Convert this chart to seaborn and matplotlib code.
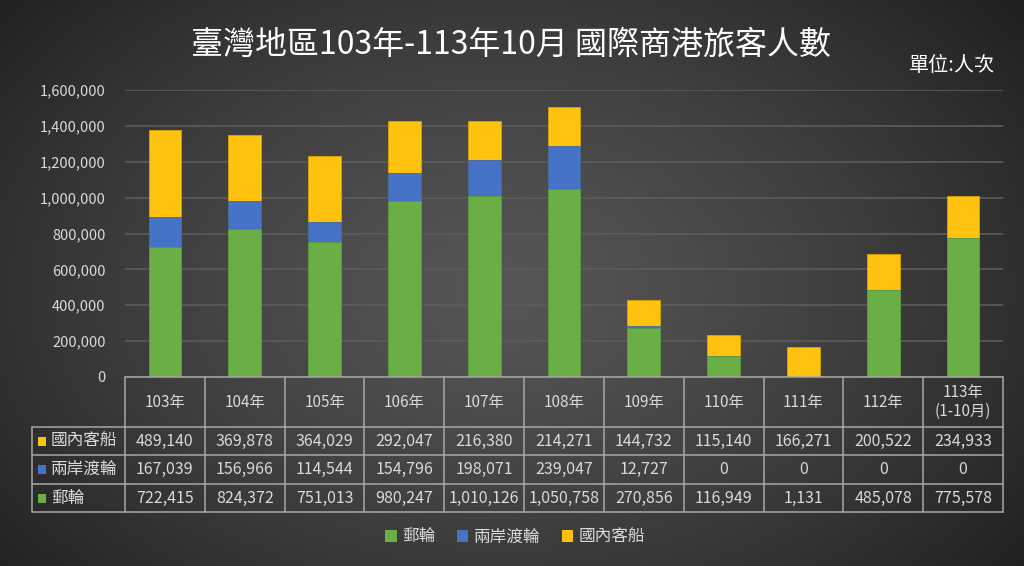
import numpy as np
import pandas as pd
import matplotlib
matplotlib.use("Agg")
import matplotlib.pyplot as plt
import matplotlib.transforms as mtransforms
from matplotlib.patches import Rectangle
import seaborn as sns

# ---------------- data ----------------
years = ["103年", "104年", "105年", "106年", "107年", "108年", "109年",
         "110年", "111年", "112年", "113年\n(1-10月)"]
domestic = [489140, 369878, 364029, 292047, 216380, 214271, 144732,
            115140, 166271, 200522, 234933]          # 國內客船
cross_strait = [167039, 156966, 114544, 154796, 198071, 239047, 12727,
                0, 0, 0, 0]                            # 兩岸渡輪
cruise = [722415, 824372, 751013, 980247, 1010126, 1050758, 270856,
          116949, 1131, 485078, 775578]                # 郵輪
series_names = ["郵輪", "兩岸渡輪", "國內客船"]
yticks = [0, 200000, 400000, 600000, 800000, 1000000, 1200000, 1400000, 1600000]
title = "臺灣地區103年-113年10月 國際商港旅客人數"
unit = "單位:人次"

C_GREEN = "#6AAE45"
C_BLUE = "#4673C6"
C_GOLD = "#FFC20E"
TXT = "#D9D9D9"
LINE = "#A8A8A8"

sns.set_theme(style="white")
plt.rcParams["font.family"] = ["Noto Sans CJK TC", "DejaVu Sans"]

W, H = 1024, 566
fig = plt.figure(figsize=(W / 100, H / 100), dpi=100)

# background radial gradient
bg = fig.add_axes([0, 0, 1, 1], zorder=-10)
yy, xx = np.mgrid[0:H, 0:W]
r = np.sqrt(((xx - 500) / 620.0) ** 2 + ((yy - 290) / 420.0) ** 2)
val = np.clip(0.335 - 0.19 * r ** 1.3, 0.13, 0.34)
img = np.dstack([val, val, val])
bg.imshow(img, aspect="auto", extent=[0, 1, 0, 1], origin="upper")
bg.axis("off")

def fx(px):
    return px / W

def fy(py):
    return 1 - py / H

ax = fig.add_axes([fx(125), fy(377), fx(1003) - fx(125), fy(90) - fy(377)])
ax.set_facecolor("none")

df = pd.DataFrame({
    "year": years,
    "cruise": cruise,
    "cross": cross_strait,
    "domestic": domestic,
})
df["lvl2"] = df["cruise"] + df["cross"]
df["lvl3"] = df["lvl2"] + df["domestic"]

bw = 0.41
sns.barplot(data=df, x="year", y="lvl3", color=C_GOLD, width=bw, ax=ax,
            saturation=1, edgecolor="#D9A300", linewidth=0.6, zorder=3)
sns.barplot(data=df, x="year", y="lvl2", color=C_BLUE, width=bw, ax=ax,
            saturation=1, edgecolor="#3A62A8", linewidth=0.6, zorder=3)
sns.barplot(data=df, x="year", y="cruise", color=C_GREEN, width=bw, ax=ax,
            saturation=1, edgecolor="#5C9A3A", linewidth=0.6, zorder=3)

ax.set_xlim(-0.5, len(years) - 0.5)
ax.set_ylim(0, 1600000)
ax.set_yticks(yticks)
ax.set_yticklabels([f"{v:,}" for v in yticks], color=TXT, fontsize=10.5)
ax.tick_params(axis="y", length=0, pad=14)
ax.set_xticks([])
ax.set_xlabel("")
ax.set_ylabel("")
for s in ax.spines.values():
    s.set_visible(False)
ax.yaxis.grid(True, color="#5C5C5C", linewidth=1.2, zorder=0)
ax.set_axisbelow(True)

# ---------------- title ----------------
fig.text(fx(511), fy(45), title, color="white", fontsize=23,
         ha="center", va="center", fontweight="medium")
fig.text(fx(995), fy(66), unit, color="white", fontsize=14.5,
         ha="right", va="center")

# ---------------- data table ----------------
tr = mtransforms.blended_transform_factory(ax.transData, fig.transFigure)
n = len(years)
x_left_px, x_tab_px, x_right_px = 32, 125, 1003
y_rows = [377, 427, 455, 484, 512]

def hline(py, x0px, x1px):
    fig.add_artist(plt.Line2D([fx(x0px), fx(x1px)], [fy(py), fy(py)],
                              color=LINE, lw=1.1, transform=fig.transFigure))

def vline(px, y0px, y1px):
    fig.add_artist(plt.Line2D([fx(px), fx(px)], [fy(y0px), fy(y1px)],
                              color=LINE, lw=1.1, transform=fig.transFigure))

hline(y_rows[0], x_tab_px, x_right_px)
for py in y_rows[1:]:
    hline(py, x_left_px, x_right_px)
vline(x_left_px, y_rows[1], y_rows[-1])
col_w = (x_right_px - x_tab_px) / n
for i in range(n + 1):
    vline(x_tab_px + i * col_w, y_rows[0], y_rows[-1])

for i, yr in enumerate(years):
    fig.text(i, fy((y_rows[0] + y_rows[1]) / 2), yr, transform=tr,
             ha="center", va="center", color=TXT, fontsize=11,
             linespacing=1.15)

rows = [("國內客船", domestic, C_GOLD), ("兩岸渡輪", cross_strait, C_BLUE),
        ("郵輪", cruise, C_GREEN)]
for k, (name, vals, col) in enumerate(rows):
    yc = fy((y_rows[k + 1] + y_rows[k + 2]) / 2)
    fig.add_artist(Rectangle((fx(38), yc - 4.5 / H), 8 / W, 9 / H,
                             facecolor=col, edgecolor="none",
                             transform=fig.transFigure))
    fig.text(fx(51), yc, name, ha="left", va="center", color=TXT,
             fontsize=12)
    for i, v in enumerate(vals):
        fig.text(i, yc, f"{v:,}", transform=tr, ha="center", va="center",
                 color=TXT, fontsize=11.5)

# ---------------- legend ----------------
handles = [Rectangle((0, 0), 1, 1, facecolor=c, edgecolor="none")
           for c in (C_GREEN, C_BLUE, C_GOLD)]
leg = fig.legend(handles, series_names, loc="center", ncol=3,
                 bbox_to_anchor=(fx(515), fy(537)), frameon=False,
                 fontsize=12, handlelength=0.7, handleheight=0.7,
                 handletextpad=0.3, columnspacing=1.3, labelcolor=TXT)

fig.savefig("out.png", dpi=100)
